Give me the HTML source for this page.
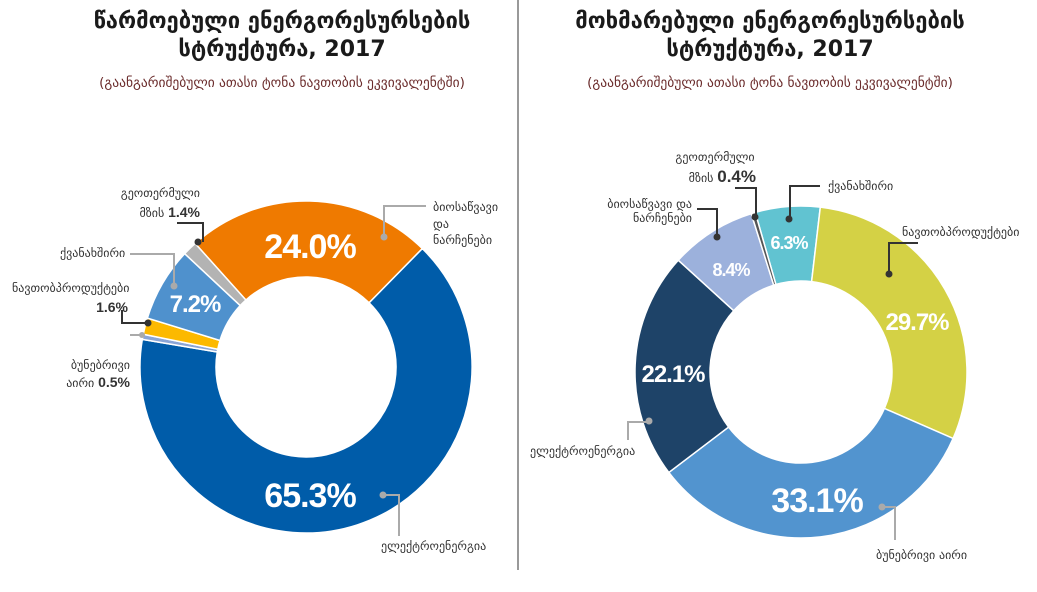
<!DOCTYPE html>
<html><head><meta charset="utf-8"><style>
body{margin:0;background:#fff;}
svg{display:block;font-family:"DejaVu Sans","Liberation Sans",sans-serif;}
.t{font-weight:bold;font-size:22px;fill:#1a1a1a;}
.s{font-size:13.5px;fill:#6b2c2c;}
.l{font-size:12px;fill:#333;}
.p{font-family:"Liberation Sans",sans-serif;font-weight:bold;fill:#fff;letter-spacing:-1px;}
.b{font-family:"Liberation Sans",sans-serif;font-weight:bold;font-size:14px;fill:#333;}
</style></head><body>
<svg width="1037" height="592" viewBox="0 0 1037 592">
<line x1="518" y1="0" x2="518" y2="570" stroke="#333" stroke-width="1"/>
<text class="t" x="282" y="28" text-anchor="middle">წარმოებული ენერგორესურსების</text>
<text class="t" x="282" y="56" text-anchor="middle">სტრუქტურა, 2017</text>
<text class="s" x="282" y="87" text-anchor="middle">(გაანგარიშებული ათასი ტონა ნავთობის ეკვივალენტში)</text>
<text class="t" x="770" y="28" text-anchor="middle">მოხმარებული ენერგორესურსების</text>
<text class="t" x="770" y="56" text-anchor="middle">სტრუქტურა, 2017</text>
<text class="s" x="770" y="87" text-anchor="middle">(გაანგარიშებული ათასი ტონა ნავთობის ეკვივალენტში)</text>
<g id="L"></g><g id="R"></g>
<g fill="none" stroke-width="2">
<path d="M384 237V206H426" stroke="#aaa"/>
<path d="M383 495H399V536" stroke="#aaa"/>
<path d="M177 223H203V242" stroke="#333"/>
<path d="M130 254H174V286" stroke="#aaa"/>
<path d="M122 310V323H148" stroke="#333"/>
<path d="M130 335H142" stroke="#aaa"/>
<path d="M735 188H756V217" stroke="#333"/>
<path d="M820 186H790V219" stroke="#333"/>
<path d="M697 209H717V237" stroke="#333"/>
<path d="M918 243H889V274" stroke="#333"/>
<path d="M628 440V422H649" stroke="#aaa"/>
<path d="M882 507H895V540" stroke="#aaa"/>
</g>
<g>
<circle cx="384" cy="237" r="3.5" fill="#aaa"/><circle cx="383" cy="495" r="3.5" fill="#aaa"/>
<circle cx="198" cy="242" r="3.5" fill="#333"/><circle cx="174" cy="286" r="3.5" fill="#aaa"/>
<circle cx="148" cy="323" r="3.5" fill="#333"/><circle cx="142" cy="335" r="3" fill="#aaa"/>
<circle cx="755" cy="217" r="3.5" fill="#333"/><circle cx="789" cy="219" r="3.5" fill="#333"/>
<circle cx="717" cy="237" r="3.5" fill="#333"/><circle cx="889" cy="274" r="3.5" fill="#333"/>
<circle cx="649" cy="421" r="3.5" fill="#aaa"/><circle cx="882" cy="507" r="3.5" fill="#aaa"/>
</g>
<text class="l" x="433" y="211">ბიოსაწვავი</text>
<text class="l" x="433" y="228">და</text>
<text class="l" x="433" y="244">ნარჩენები</text>
<text class="l" x="381" y="550">ელექტროენერგია</text>
<text class="l" x="200" y="197" text-anchor="end">გეოთერმული</text>
<text class="l" x="200" y="217" text-anchor="end">მზის <tspan class="b">1.4%</tspan></text>
<text class="l" x="60" y="257">ქვანახშირი</text>
<text class="l" x="12" y="292">ნავთობპროდუქტები</text>
<text class="b" x="128" y="312" text-anchor="end">1.6%</text>
<text class="l" x="130" y="369" text-anchor="end">ბუნებრივი</text>
<text class="l" x="130" y="387" text-anchor="end">აირი <tspan class="b">0.5%</tspan></text>
<text class="l" x="715" y="161" text-anchor="middle">გეოთერმული</text>
<text class="l" x="756" y="182" text-anchor="end">მზის <tspan class="b" style="font-size:17px">0.4%</tspan></text>
<text class="l" x="828" y="190">ქვანახშირი</text>
<text class="l" x="692" y="208" text-anchor="end">ბიოსაწვავი და</text>
<text class="l" x="692" y="222" text-anchor="end">ნარჩენები</text>
<text class="l" x="902" y="236">ნავთობპროდუქტები</text>
<text class="l" x="530" y="455">ელექტროენერგია</text>
<text class="l" x="876" y="559">ბუნებრივი აირი</text>
<text class="p" x="310" y="258" text-anchor="middle" font-size="34">24.0%</text>
<text class="p" x="310" y="507" text-anchor="middle" font-size="34">65.3%</text>
<text class="p" x="195" y="312" text-anchor="middle" font-size="24">7.2%</text>
<text class="p" x="789" y="249" text-anchor="middle" font-size="18">6.3%</text>
<text class="p" x="731" y="276" text-anchor="middle" font-size="18">8.4%</text>
<text class="p" x="917" y="330" text-anchor="middle" font-size="24">29.7%</text>
<text class="p" x="673" y="382" text-anchor="middle" font-size="24">22.1%</text>
<text class="p" x="817" y="512" text-anchor="middle" font-size="34">33.1%</text>
</svg>
<script>
function donut(id,cx,cy,r,ri,start,data){
 var g=document.getElementById(id),a=start,s='';
 data.forEach(function(d){
  var b=a+d[0]*3.6;
  function pt(R,ang){var t=(ang-90)*Math.PI/180;return [cx+R*Math.cos(t),cy+R*Math.sin(t)];}
  var p1=pt(r,a),p2=pt(r,b),p3=pt(ri,b),p4=pt(ri,a),lg=(b-a)>180?1:0;
  s+='<path d="M'+p1+'A'+r+' '+r+' 0 '+lg+' 1 '+p2+'L'+p3+'A'+ri+' '+ri+' 0 '+lg+' 0 '+p4+'Z" fill="'+d[1]+'" stroke="#fff" stroke-width="1.5"/>';
  a=b;});
 g.innerHTML=s;
}
donut('L',306,367,166,90,-41.9,[[24,'#ef7a00'],[65.3,'#005ca9'],[0.5,'#8aa5d6'],[1.6,'#fcb900'],[7.2,'#4f91cd'],[1.4,'#b3b3b3']]);
donut('R',801,372,166,91,-16,[[6.3,'#61c3d1'],[29.7,'#d4d145'],[33.1,'#5294cf'],[22.1,'#1e4368'],[8.4,'#9cb1dc'],[0.4,'#555555']]);
</script>
</body></html>
